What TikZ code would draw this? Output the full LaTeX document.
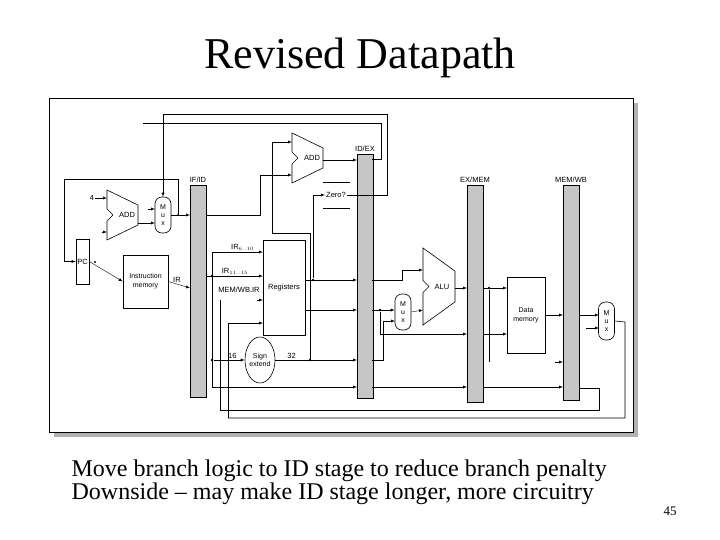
\documentclass[tikz,border=0pt]{standalone}
\usepackage{fontspec}
\setmainfont{Liberation Serif}
\newfontfamily\diag{Liberation Sans}
\usepackage{tikz}
\usetikzlibrary{positioning,shapes.geometric}

\tikzset{
  stage/.style = {draw, fill=gray!45, minimum width=16pt, inner sep=0pt},
  box/.style = {draw, fill=white, align=center, inner sep=0pt},
  mux/.style = {draw, fill=white, rounded corners=7pt, minimum width=16pt, align=center, inner sep=1pt, font=\diag\fontsize{7}{8}\selectfont},
  wire/.style = {-latex, thin},
  lbl/.style = {font=\diag\fontsize{7.5}{9}\selectfont, inner sep=1pt},
  dot/.style = {circle, fill, inner sep=1pt}
}
% adder / alu outline: left x, top y, right x, bottom y
\newcommand{\alushape}[4]{%
  \draw[fill=white] (#1,#2) -- (#3,{#2+0.3*(#4-#2)}) -- (#3,{#4-0.3*(#4-#2)}) -- (#1,#4)
    -- (#1,{(#2+#4)/2+6}) -- ({#1+6},{(#2+#4)/2}) -- (#1,{(#2+#4)/2-6}) -- cycle;}

\begin{document}
\begin{tikzpicture}[x=1pt, y=-1pt, line width=0.6pt]
\useasboundingbox (0,0) rectangle (720,540);

% frame with shadow
\fill[gray!60] (54,103) rectangle (638,437);
\draw[fill=white] (49,98) rectangle (633,432);

\node (title) at (360,58) {\fontsize{44}{50}\selectfont Revised Datapath};
\node[anchor=west, align=left] (note) at (68,482)
  {\fontsize{24}{25}\selectfont Move branch logic to ID stage to reduce branch penalty\\
   \fontsize{24}{25}\selectfont Downside -- may make ID stage longer, more circuitry};
\node (page) at (670,511) {\fontsize{13}{15}\selectfont 45};

% pipeline registers
\node[stage, minimum height=212pt] (ifid) at (198,291) {};
\node[stage, minimum height=244pt] (idex) at (365,276) {};
\node[stage, minimum height=217pt] (exmem) at (475,293.5) {};
\node[stage, minimum height=215pt] (memwb) at (571,292.5) {};
\node[lbl, above=1pt of ifid] {IF/ID};
\node[lbl, above=1pt of idex] {ID/EX};
\node[lbl, above=1pt of exmem] {EX/MEM};
\node[lbl, above=1pt of memwb] {MEM/WB};

% IF stage
\node[box, minimum width=13pt, minimum height=45pt, font=\diag\fontsize{7.5}{9}\selectfont] (pc) at (82.5,261.5) {PC};
\node[box, minimum width=45pt, minimum height=53pt, font=\diag\fontsize{7}{9}\selectfont] (imem) at (145.5,281.5) {Instruction\\memory};
\alushape{107}{190}{138}{240}
\node[lbl] (addif) at (127,215) {ADD};
\node[mux, minimum height=36pt] (muxif) at (163,215) {M\\u\\x};

% ID stage
\node[box, minimum width=42pt, minimum height=95pt, font=\diag\fontsize{7.5}{9}\selectfont] (regs) at (284,287.5) {Registers};
\node[draw, ellipse, minimum width=30pt, minimum height=46pt, align=center, inner sep=0pt, font=\diag\fontsize{7}{8}\selectfont] (sext) at (260,360) {Sign\\extend};
\alushape{292}{133}{323}{183}
\node[lbl] (addid) at (312,158) {ADD};
\node[lbl] (zero) at (336,195) {Zero?};
\draw (323,182) -- (350,182) (323,208) -- (350,208);

% EX stage
\alushape{423}{248}{455}{325}
\node[lbl] (alu) at (442,287) {ALU};
\node[mux, minimum height=36pt] (muxex) at (403,312) {M\\u\\x};

% MEM / WB stage
\node[box, minimum width=38pt, minimum height=76pt, font=\diag\fontsize{7}{9}\selectfont] (dmem) at (526,315) {Data\\memory};
\node[mux, minimum height=38pt] (muxwb) at (606.5,321) {M\\u\\x};

% IF wiring
\coordinate (pcsplit) at (95,262);
\node[lbl] (four) at (92,198) {4};
\draw[wire] (four) -- (107,198);
\draw[wire] (102,232) -- (107,232);
\draw[wire] (138,223) -- (155,223);
\draw[wire] (148,209) -- (155,209);
\draw[wire] (pc.east) -- (imem.west);
\node[dot, inner sep=0.8pt] at (pcsplit) {};
\draw[wire] (muxif.east) -- (190,215);
\node[dot, inner sep=0.8pt] (jif) at (178,215) {};
\draw[wire] (jif) |- (64,179) |- (pc.west);
\draw[wire] (imem.east) -- (190,288) node[lbl, pos=0.4, above] {IR};
\draw[wire] (zero.east) -- (387,195) -- (387,114) -| (muxif.north);
\draw (372,159) -- (381,159) -- (381,123) -- (143,123);

% ID wiring
\draw[wire] (323,160) -- (357,160);
\draw[wire] (207,215) -- (260,215) |- (292,175);
\draw[wire] (310,360) -- (310,233) -| (272,142) -- (292,142);
\node[dot] (jzero) at (313,280) {};
\draw[wire] (jzero) |- (zero.west);
\draw (212,252) -- (212,387);
\draw[wire] (212,252) -- (263,252) node[lbl, pos=0.6, above] {IR$_{6..10}$};
\node[dot] (jir) at (212,276) {};
\draw[wire] (207,276) -- (263,276) node[lbl, pos=0.5, above] {IR$_{11..15}$};
\node[lbl] (mwbir) at (239,290) {MEM/WB.IR};
\draw[wire] (257,300) -- (263,300);
\node[dot] (jsx) at (212,360) {};
\draw[wire] (jsx) -- (sext.west) node[lbl, pos=0.6, above] {16};
\draw[wire] (sext.east) -- (357,360) node[lbl, pos=0.2, above] {32};
\node[dot] at (310,360) {};
\draw[wire] (305,280) -- (357,280);
\draw[wire] (305,310) -- (357,310);
\draw[wire] (212,387) -- (357,387);
\draw[wire] (228,418) |- (263,323);

% EX wiring
\draw[wire] (372,280) -- (402,280) |- (423,270);
\draw[wire] (372,310) -- (muxex.west |- 0,310);
\node[dot] (jex) at (380,310) {};
\draw[wire] (jex) |- (467,334);
\draw[wire] (483,334) -- (507,334);
\draw[wire] (372,360) -- (383,360) |- (395,321);
\draw[wire] (muxex.east) -- (423,310);
\draw[wire] (455,288) -- (467,288);
\draw[wire] (483,288) -- (507,288);
\node[dot] (jmem) at (489,288) {};
\draw (jmem) -- (489,362);
\draw[wire] (372,387) -- (467,387);

% MEM / WB wiring
\draw[wire] (dmem.east |- 0,315) -- (563,315);
\draw[wire] (579,315) -- (599,315);
\draw[wire] (586,328) -- (599,328);
\draw[wire] (555,362) -- (563,362);
\draw[wire] (483,387) -- (563,387);
\draw (579,388) -- (599,388) -- (599,410) -- (220,410) -- (220,300);
\draw (muxwb.east) -- (625,322) -- (625,418) -- (228,418);
\end{tikzpicture}
\end{document}
